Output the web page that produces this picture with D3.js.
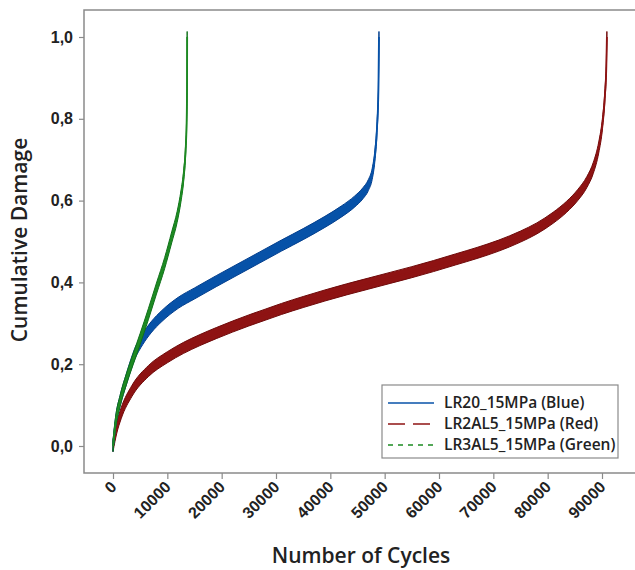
<!DOCTYPE html>
<html>
<head>
<meta charset="utf-8">
<script src="https://cdn.jsdelivr.net/npm/d3@7"></script>
<style>
  body { margin: 0; background: #fff; }
  svg { display: block; font-family: "Open Sans", "Noto Sans", sans-serif; }
</style>
</head>
<body>
<svg id="chart" width="635" height="570"></svg>
<script>
// cycles / cumulative damage
const blueCycles = [0, 500, 1300, 2500, 4000, 5500, 7000, 9000, 12000, 15000, 19000, 23000, 27000, 31000, 35000, 39000, 42000, 44500, 46000, 47000, 47700, 48200, 48600, 48850, 48950];
const blueDamage = [0, 0.06, 0.11, 0.165, 0.225, 0.262, 0.29, 0.318, 0.35, 0.373, 0.403, 0.432, 0.461, 0.49, 0.518, 0.548, 0.573, 0.598, 0.618, 0.638, 0.665, 0.71, 0.78, 0.87, 1.0];

const redCycles = [0, 700, 1500, 3500, 6500, 10000, 13000, 16000, 19000, 22000, 25000, 28000, 31000, 35000, 39000, 43000, 47000, 51000, 55000, 59000, 63000, 67000, 71000, 75000, 78000, 81000, 83500, 85500, 87200, 88400, 89400, 90100, 90550, 90800, 90900];
const redDamage = [0, 0.045, 0.08, 0.135, 0.183, 0.217, 0.24, 0.259, 0.276, 0.292, 0.307, 0.321, 0.335, 0.352, 0.368, 0.383, 0.397, 0.411, 0.425, 0.44, 0.456, 0.472, 0.49, 0.512, 0.532, 0.558, 0.585, 0.613, 0.645, 0.68, 0.73, 0.79, 0.86, 0.93, 1.0];

const greenCycles = [0, 500, 1300, 2500, 3700, 5000, 6500, 8000, 9500, 10800, 11800, 12500, 13000, 13350, 13550, 13630, 13650];
const greenDamage = [0, 0.06, 0.11, 0.165, 0.212, 0.262, 0.322, 0.385, 0.447, 0.51, 0.56, 0.61, 0.66, 0.72, 0.79, 0.88, 1.0];

const seriesNames = ["LR20_15MPa (Blue)", "LR2AL5_15MPa (Red)", "LR3AL5_15MPa (Green)"];
const seriesColors = ["#0752a8", "#8e1313", "#1d8a22"];
const seriesDark = ["#033f8e", "#6f0a0a", "#10701a"];
const seriesDash = [null, "17,8", "5,5"];

const xTicks = [0, 10000, 20000, 30000, 40000, 50000, 60000, 70000, 80000, 90000];
const yTicks = [0, 0.2, 0.4, 0.6, 0.8, 1.0];

const series = [
  { name: seriesNames[0], cycles: blueCycles, damage: blueDamage, i: 0 },
  { name: seriesNames[1], cycles: redCycles, damage: redDamage, i: 1 },
  { name: seriesNames[2], cycles: greenCycles, damage: greenDamage, i: 2 },
];

const svg = d3.select("svg#chart");
const frame = { left: 84, top: 10, right: 635, bottom: 473 };

const x = d3.scaleLinear().domain([0, 90000]).range([113, 602]);
const y = d3.scaleLinear().domain([0, 1]).range([446, 37]);

const axisColor = "#8a8a8a";
const textColor = "#222";

// frame (left, top, bottom)
svg.append("path")
  .attr("d", `M${frame.right},${frame.top}H${frame.left}V${frame.bottom}H${frame.right}`)
  .attr("fill", "none")
  .attr("stroke", axisColor)
  .attr("stroke-width", 1.5);

// y axis
const yAxis = svg.append("g")
  .attr("transform", `translate(${frame.left},0)`)
  .call(d3.axisLeft(y).tickValues(yTicks).tickSize(5).tickPadding(6)
    .tickFormat((d) => d3.format(".1f")(d).replace(".", ",")));
yAxis.select(".domain").remove();
yAxis.selectAll("line").attr("stroke", axisColor).attr("stroke-width", 1.2);
yAxis.selectAll("text")
  .attr("fill", textColor)
  .style("font-size", "16px")
  .style("font-weight", 600);

// x axis
const xAxis = svg.append("g")
  .attr("transform", `translate(0,${frame.bottom})`)
  .call(d3.axisBottom(x).tickValues(xTicks).tickSize(6).tickFormat(d3.format("d")));
xAxis.select(".domain").remove();
xAxis.selectAll("line").attr("stroke", axisColor).attr("stroke-width", 1.2);
xAxis.selectAll("text")
  .attr("fill", textColor)
  .style("font-size", "16px")
  .style("font-weight", 600)
  .attr("text-anchor", "end")
  .attr("dy", null)
  .attr("y", null)
  .attr("transform", "translate(4,15) rotate(-45)");

// axis titles
svg.append("text")
  .attr("transform", "translate(27,240) rotate(-90)")
  .attr("text-anchor", "middle")
  .attr("fill", textColor)
  .style("font-size", "21px")
  .style("font-weight", 600)
  .text("Cumulative Damage");

svg.append("text")
  .attr("x", 361)
  .attr("y", 563)
  .attr("text-anchor", "middle")
  .attr("fill", textColor)
  .style("font-size", "21px")
  .style("font-weight", 600)
  .text("Number of Cycles");

// noisy bands drawn as a thin area plus a centre line
const band = 0.0135;
const area = d3.area()
  .curve(d3.curveMonotoneX)
  .x((d) => x(d[0]))
  .y0((d) => y(d[1] - band))
  .y1((d) => y(d[1] + band));
const line = d3.line()
  .curve(d3.curveMonotoneX)
  .x((d) => x(d[0]))
  .y((d) => y(d[1]));

const drawOrder = [series[1], series[0], series[2]];
const curves = svg.append("g");
drawOrder.forEach((s) => {
  const pts = d3.zip(s.cycles, s.damage);
  curves.append("path")
    .attr("d", area(pts))
    .attr("fill", seriesColors[s.i])
    .attr("stroke", seriesDark[s.i])
    .attr("stroke-width", 1);
  curves.append("path")
    .attr("d", line(pts))
    .attr("fill", "none")
    .attr("stroke", seriesColors[s.i])
    .attr("stroke-width", 1.8);
});

// legend
const legend = svg.append("g").attr("transform", "translate(382,385)");
legend.append("rect")
  .attr("width", 236)
  .attr("height", 73)
  .attr("fill", "#fff")
  .attr("stroke", axisColor)
  .attr("stroke-width", 1.2);
const rows = legend.selectAll("g.row")
  .data(series)
  .join("g")
  .attr("class", "row")
  .attr("transform", (d, i) => `translate(0,${18 + i * 21})`);
rows.append("line")
  .attr("x1", 6)
  .attr("x2", 52)
  .attr("stroke", (d) => seriesColors[d.i])
  .attr("stroke-width", 1.6)
  .attr("stroke-dasharray", (d) => seriesDash[d.i]);
rows.append("text")
  .attr("x", 62)
  .attr("dy", "0.35em")
  .attr("fill", textColor)
  .style("font-size", "15.5px")
  .style("font-weight", 600)
  .text((d) => d.name);
</script>
</body>
</html>
